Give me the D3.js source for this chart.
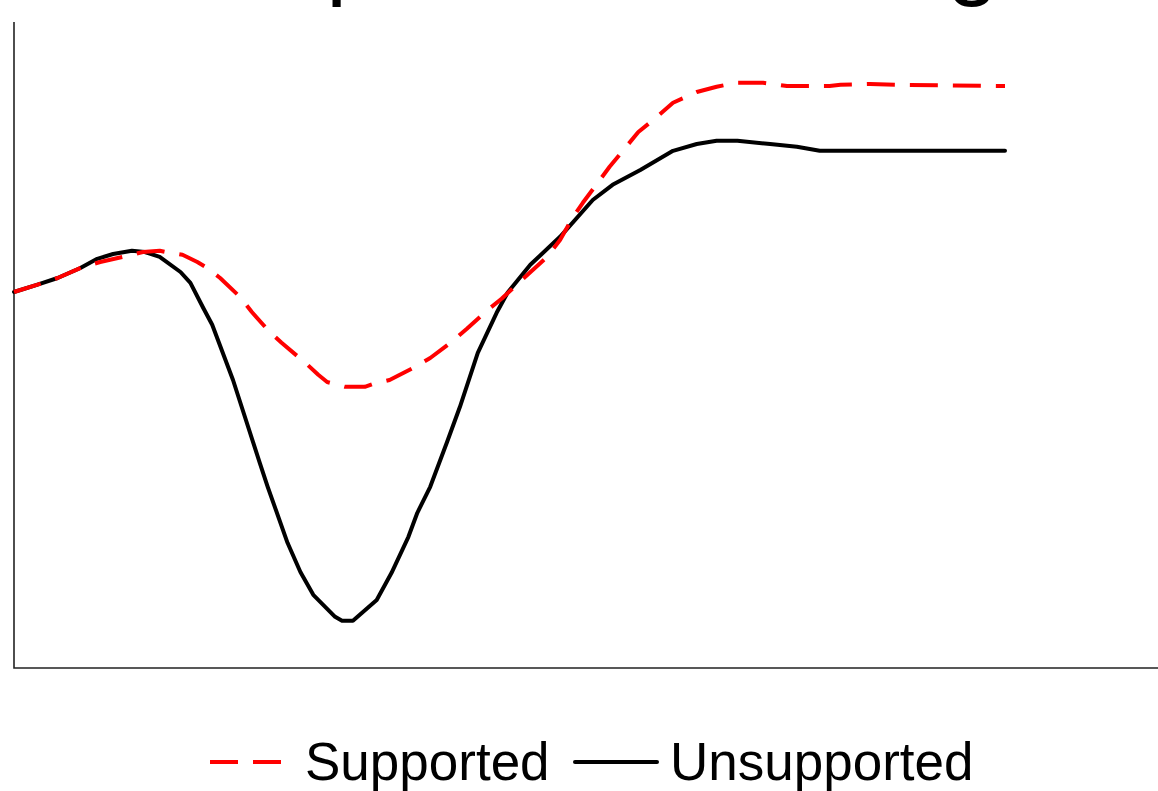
<!DOCTYPE html>
<html>
<head>
<meta charset="utf-8">
<script src="https://cdn.jsdelivr.net/npm/d3@7"></script>
<style>
  body { margin: 0; background: #fff; }
  svg { display: block; font-family: "Liberation Sans", Arial, sans-serif; }
</style>
</head>
<body>
<svg width="1158" height="791"></svg>
<script>
// x: time (0..100), y: index level
const xSupported = [0, 2.3, 4.4, 7.0, 8.7, 11.4, 13.0, 14.7, 15.7, 17.0, 18.5, 19.5, 20.8, 22.8, 24.0, 25.8, 27.0, 29.4, 30.7, 31.6, 33.4, 35.4, 36.2, 37.9, 40.5, 42.0, 44.3, 45.7, 47.7, 49.2, 51.9, 53.8, 55.1, 56.3, 57.4, 60.1, 61.5, 63.0, 64.5, 66.5, 68.9, 70.9, 72.8, 75.6, 78.0, 82.3, 83.4, 86.4, 89.4, 100];
const ySupported = [100, 101.8, 103.5, 106.3, 107.5, 109, 110, 110.3, 109.8, 109.3, 107.5, 106, 103.5, 98.8, 95, 90, 87.3, 82.3, 79.3, 77.5, 76.3, 76.3, 77, 78, 81.3, 83.5, 87.8, 90.8, 95.3, 98.3, 104.5, 108.8, 113, 118.3, 122.3, 131.3, 135.5, 140, 143, 147.3, 150, 151.3, 152.3, 152.3, 151.5, 151.5, 151.8, 152, 151.8, 151.5];

const xUnsupported = [0, 2.3, 4.4, 6.7, 8.4, 10.0, 11.9, 13.2, 14.7, 16.8, 17.8, 19.1, 20.0, 22.1, 24.8, 25.6, 27.6, 28.9, 30.2, 32.4, 33.1, 34.2, 36.6, 38.1, 39.8, 40.7, 42.0, 43.7, 45.0, 46.8, 48.7, 49.8, 52.1, 55.1, 58.4, 60.4, 63.2, 66.5, 68.9, 70.9, 73.0, 76.3, 79.0, 81.3, 83.4, 100];
const yUnsupported = [100, 101.8, 103.5, 106, 108.3, 109.5, 110.3, 110, 108.8, 105, 102.3, 96, 91.8, 78, 57.3, 51.3, 37.3, 30, 24.3, 18.8, 17.8, 17.8, 23, 29.8, 38.8, 44.8, 51.3, 62.5, 71.3, 84.8, 94.8, 99.8, 106.8, 113.8, 123, 126.8, 130.5, 135.3, 137, 137.8, 137.8, 137, 136.3, 135.3, 135.3, 135.3];

const titleText = "Consumption Smoothing";
const legendLabels = ["Supported", "Unsupported"];

const svg = d3.select("svg");
const margin = {left: 14, top: 22, bottom: 123};
const W = 1158, H = 791;

const x = d3.scaleLinear().domain([0, 100]).range([14, 1005]);
const y = d3.scaleLinear().domain([6, 167.5]).range([H - margin.bottom, margin.top]);

// title (mostly above the visible area, only descenders show)
svg.append("text")
   .attr("x", -20).attr("y", -12)
   .attr("font-size", 93)
   .attr("fill", "#000")
   .text(titleText);

// L-shaped frame
svg.append("path")
   .attr("d", `M${margin.left},${margin.top}V${H - margin.bottom}H${W}`)
   .attr("fill", "none")
   .attr("stroke", "#222")
   .attr("stroke-width", 1.6);

const line = d3.line().x(d => x(d[0])).y(d => y(d[1]));

const supported = d3.zip(xSupported, ySupported);
const unsupported = d3.zip(xUnsupported, yUnsupported);

svg.append("path")
   .datum(unsupported)
   .attr("d", line)
   .attr("fill", "none")
   .attr("stroke", "#000")
   .attr("stroke-width", 4)
   .attr("stroke-linejoin", "round")
   .attr("stroke-linecap", "round");

svg.append("path")
   .datum(supported)
   .attr("d", line)
   .attr("fill", "none")
   .attr("stroke", "#ff0000")
   .attr("stroke-width", 4)
   .attr("stroke-dasharray", "28,15")
   .attr("stroke-linejoin", "round");

// legend
const lg = svg.append("g").attr("transform", "translate(0,762)");
lg.append("line").attr("x1", 210).attr("x2", 281)
  .attr("stroke", "#ff0000").attr("stroke-width", 4).attr("stroke-dasharray", "28,15");
lg.append("text").attr("x", 305).attr("y", 18).attr("font-size", 53).text(legendLabels[0]);
lg.append("line").attr("x1", 575).attr("x2", 657)
  .attr("stroke", "#000").attr("stroke-width", 4).attr("stroke-linecap", "round");
lg.append("text").attr("x", 670).attr("y", 18).attr("font-size", 53).text(legendLabels[1]);
</script>
</body>
</html>
